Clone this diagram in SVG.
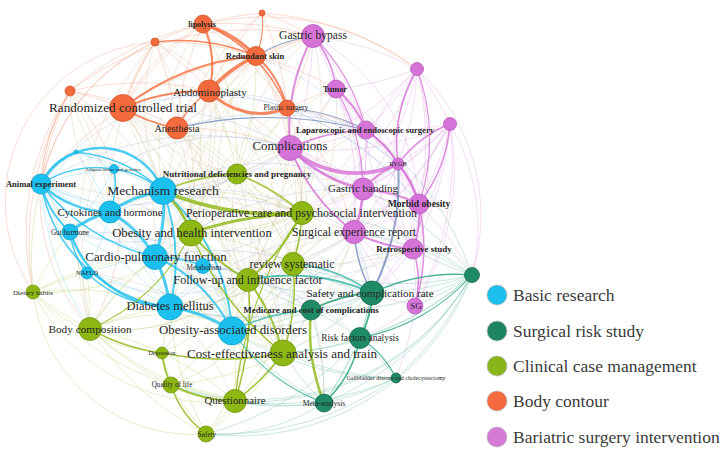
<svg xmlns="http://www.w3.org/2000/svg" width="726" height="452" viewBox="0 0 726 452">
<style>
.e path{fill:none;stroke-linecap:round}
.f path{stroke-width:.6;opacity:.5}
.k path{opacity:.8}
.o{stroke:#f08a62}.p{stroke:#d98ade}.d{stroke:#4ab094}.g{stroke:#a8c84a}.b{stroke:#5ccdf0}.m{stroke:#cdb88e}.s{stroke:#95b0dc}
.O{stroke:#f26a3a}.P{stroke:#d46fd6}.B{stroke:#22c1ee}.G{stroke:#8db712}.D{stroke:#22a07a}.S{stroke:#6f8bb8}.T{stroke:#30b5a0}
.w1{stroke-width:1.1}.w15{stroke-width:1.5}.w2{stroke-width:2}.w25{stroke-width:2.5}.w3{stroke-width:3}.w4{stroke-width:3.8}
.n circle{stroke-width:.8}
.cb{fill:#1cc0ef;stroke:#14a3cc}.cd{fill:#1e8a66;stroke:#166b4f}.cg{fill:#8db712;stroke:#739610}.co{fill:#f36a3c;stroke:#d4542a}.cp{fill:#d573d9;stroke:#b85dbc}
text{font-family:"Liberation Serif","Times New Roman",serif;fill:#262626;text-anchor:middle}
.bd{font-weight:bold}
.lg circle{stroke:#bbbbbb;stroke-width:.8}
.lg text{text-anchor:start;font-size:17.5px;fill:#3a3a3a}
</style>
<rect width="726" height="452" fill="#ffffff"/>
<g id="connectors" class="e">
<g class="f">
<g class="o">
<path d="M123 108A300 300 0 0 1 203 24"/><path d="M177 128A300 300 0 0 1 203 24"/><path d="M203 24A300 300 0 0 1 287 108"/><path d="M203 24A300 300 0 0 1 313 36"/><path d="M70 91A300 300 0 0 1 203 24"/>
<path d="M123 108A300 300 0 0 1 155 42"/><path d="M155 42A300 300 0 0 1 209 91"/><path d="M155 42A300 300 0 0 1 256 56"/><path d="M155 42A300 300 0 0 1 177 128"/><path d="M41 184A200 200 0 0 1 155 42"/>
<path d="M209 91A300 300 0 0 1 262 13"/><path d="M203 24A300 300 0 0 1 262 13"/><path d="M262 13A300 300 0 0 1 313 36"/><path d="M262 13A300 300 0 0 1 287 108"/><path d="M177 128A300 300 0 0 1 262 13"/><path d="M262 13A300 300 0 0 1 417 69"/>
<path d="M70 91A300 300 0 0 1 123 108"/><path d="M70 91A300 300 0 0 1 209 91"/><path d="M70 91A300 300 0 0 1 177 128"/><path d="M41 184A300 300 0 0 1 70 91"/><path d="M33 292A300 300 0 0 1 70 91"/><path d="M90 329A200 200 0 0 1 70 91"/>
<path d="M123 108A300 300 0 0 1 256 56"/><path d="M256 56A300 300 0 0 1 177 128"/><path d="M256 56A300 300 0 0 1 313 36"/><path d="M256 56A300 300 0 0 1 336 89"/><path d="M256 56A300 300 0 0 1 290 148"/>
<path d="M209 91A300 300 0 0 1 290 148"/><path d="M209 91A300 300 0 0 1 313 36"/><path d="M41 184A300 300 0 0 1 123 108"/><path d="M177 128A300 300 0 0 1 290 148"/>
<path d="M287 108A300 300 0 0 1 290 148"/><path d="M313 36A300 300 0 0 1 287 108"/><path d="M287 108A300 300 0 0 1 336 89"/><path d="M287 108A300 300 0 0 1 366 130"/><path d="M287 108A300 300 0 0 1 354 232"/>
<path d="M155 42A250 250 0 0 1 417 69"/><path d="M70 91A300 300 0 0 1 313 36"/><path d="M33 292A160 160 0 0 1 155 42"/>
<path d="M70 91A200 200 0 0 0 41 184"/><path d="M70 91A200 200 0 0 1 90 329"/><path d="M155 42A200 200 0 0 0 41 184"/><path d="M70 91A250 250 0 0 0 33 292"/><path d="M155 42A200 200 0 0 0 123 108"/><path d="M203 24A200 200 0 0 0 123 108"/>
</g>
<g class="p">
<path d="M313 36A300 300 0 0 1 336 89"/><path d="M313 36A300 300 0 0 1 366 130"/><path d="M313 36A300 300 0 0 1 290 148"/><path d="M313 36A300 300 0 0 1 417 69"/><path d="M313 36A300 300 0 0 1 363 189"/>
<path d="M417 69A300 300 0 0 1 336 89"/><path d="M417 69A300 300 0 0 1 366 130"/><path d="M417 69A300 300 0 0 1 398 164"/><path d="M417 69A300 300 0 0 1 419 204"/><path d="M417 69A300 300 0 0 1 413 249"/><path d="M417 69A300 300 0 0 1 450 124"/><path d="M417 69A300 300 0 0 1 363 189"/><path d="M417 69A300 300 0 0 1 290 148"/><path d="M417 69A200 200 0 0 1 472 275"/><path d="M417 69A300 300 0 0 1 302 213"/>
<path d="M336 89A300 300 0 0 1 366 130"/><path d="M336 89A300 300 0 0 1 290 148"/><path d="M336 89A300 300 0 0 1 363 189"/><path d="M336 89A300 300 0 0 1 398 164"/><path d="M336 89A300 300 0 0 1 354 232"/>
<path d="M450 124A300 300 0 0 1 398 164"/><path d="M450 124A300 300 0 0 1 419 204"/><path d="M450 124A300 300 0 0 1 413 249"/><path d="M450 124A300 300 0 0 1 366 130"/><path d="M450 124A300 300 0 0 1 363 189"/><path d="M450 124A200 200 0 0 1 472 275"/><path d="M450 124A300 300 0 0 1 354 232"/><path d="M450 124A300 300 0 0 1 372 293"/><path d="M450 124A300 300 0 0 1 415 306"/><path d="M450 124A300 300 0 0 1 290 148"/><path d="M450 124A300 300 0 0 1 302 213"/><path d="M450 124A300 300 0 0 1 248 280"/>
<path d="M366 130A300 300 0 0 1 290 148"/><path d="M366 130A300 300 0 0 1 398 164"/><path d="M366 130A300 300 0 0 1 363 189"/><path d="M366 130A300 300 0 0 1 354 232"/><path d="M366 130A300 300 0 0 1 419 204"/>
<path d="M290 148A300 300 0 0 1 363 189"/><path d="M290 148A300 300 0 0 1 354 232"/>
<path d="M398 164A300 300 0 0 1 419 204"/><path d="M398 164A300 300 0 0 1 363 189"/><path d="M398 164A300 300 0 0 1 413 249"/><path d="M398 164A300 300 0 0 1 354 232"/>
<path d="M363 189A300 300 0 0 1 419 204"/><path d="M363 189A300 300 0 0 1 354 232"/><path d="M363 189A300 300 0 0 1 413 249"/>
<path d="M419 204A300 300 0 0 1 413 249"/><path d="M419 204A300 300 0 0 1 354 232"/><path d="M419 204A300 300 0 0 1 472 275"/><path d="M419 204A300 300 0 0 1 415 306"/>
<path d="M354 232A300 300 0 0 1 413 249"/><path d="M354 232A300 300 0 0 1 415 306"/><path d="M413 249A300 300 0 0 1 415 306"/><path d="M413 249A300 300 0 0 1 372 293"/><path d="M415 306A300 300 0 0 1 372 293"/><path d="M415 306A300 300 0 0 1 360 338"/><path d="M415 306A300 300 0 0 1 396 378"/>
<path d="M450 124A200 200 0 0 0 413 249"/><path d="M417 69A200 200 0 0 0 354 232"/><path d="M417 69A200 200 0 0 0 413 249"/><path d="M313 36A200 200 0 0 1 419 204"/><path d="M336 89A200 200 0 0 1 419 204"/><path d="M290 148A200 200 0 0 1 413 249"/><path d="M290 148A200 200 0 0 0 419 204"/><path d="M366 130A200 200 0 0 0 413 249"/><path d="M354 232A200 200 0 0 0 415 306"/><path d="M450 124A250 250 0 0 1 415 306"/>
</g>
<g class="d">
<path d="M472 275A300 300 0 0 1 413 249"/><path d="M472 275A300 300 0 0 1 415 306"/><path d="M472 275A300 300 0 0 1 372 293"/><path d="M472 275A300 300 0 0 1 360 338"/><path d="M472 275A300 300 0 0 1 396 378"/><path d="M472 275A300 300 0 0 1 324 403"/><path d="M354 232A300 300 0 0 1 472 275"/><path d="M472 275A300 300 0 0 1 293 264"/><path d="M472 275A300 300 0 0 1 283 353"/><path d="M472 275A300 300 0 0 1 311 310"/><path d="M363 189A300 300 0 0 1 472 275"/><path d="M366 130A300 300 0 0 1 472 275"/><path d="M302 213A300 300 0 0 1 472 275"/><path d="M472 275A250 250 0 0 1 206 434"/><path d="M472 275A250 250 0 0 1 235 401"/><path d="M472 275A250 250 0 0 1 171 385"/>
<path d="M372 293A300 300 0 0 1 311 310"/><path d="M372 293A300 300 0 0 1 360 338"/><path d="M372 293A300 300 0 0 1 248 280"/><path d="M372 293A300 300 0 0 1 293 264"/><path d="M372 293A300 300 0 0 1 283 353"/><path d="M372 293A300 300 0 0 1 232 331"/><path d="M372 293A300 300 0 0 1 324 403"/>
<path d="M311 310A300 300 0 0 1 360 338"/><path d="M311 310A300 300 0 0 1 324 403"/><path d="M311 310A300 300 0 0 1 283 353"/><path d="M311 310A300 300 0 0 1 232 331"/><path d="M311 310A300 300 0 0 1 248 280"/><path d="M311 310A300 300 0 0 1 170 307"/>
<path d="M360 338A300 300 0 0 1 396 378"/><path d="M360 338A300 300 0 0 1 324 403"/><path d="M360 338A300 300 0 0 1 283 353"/><path d="M360 338A300 300 0 0 1 206 434"/>
<path d="M396 378A300 300 0 0 1 324 403"/><path d="M396 378A300 300 0 0 1 283 353"/><path d="M396 378A300 300 0 0 1 235 401"/><path d="M396 378A300 300 0 0 1 232 331"/><path d="M396 378A300 300 0 0 1 206 434"/>
<path d="M324 403A300 300 0 0 1 235 401"/><path d="M324 403A200 200 0 0 1 206 434"/><path d="M324 403A300 300 0 0 1 283 353"/><path d="M324 403A300 300 0 0 1 232 331"/><path d="M324 403A300 300 0 0 1 171 385"/>
</g>
<g class="g">
<path d="M237 174A300 300 0 0 1 302 213"/><path d="M163 191A300 300 0 0 1 237 174"/><path d="M237 174A300 300 0 0 1 191 233"/><path d="M237 174A300 300 0 0 1 293 264"/><path d="M203 24A300 300 0 0 1 237 174"/><path d="M256 56A300 300 0 0 1 237 174"/><path d="M209 91A300 300 0 0 1 237 174"/><path d="M177 128A300 300 0 0 1 237 174"/><path d="M287 108A300 300 0 0 1 237 174"/>
<path d="M302 213A300 300 0 0 1 191 233"/><path d="M302 213A300 300 0 0 1 293 264"/><path d="M302 213A300 300 0 0 1 248 280"/><path d="M163 191A300 300 0 0 1 302 213"/>
<path d="M191 233A300 300 0 0 1 248 280"/><path d="M191 233A300 300 0 0 1 293 264"/><path d="M191 233A300 300 0 0 1 170 307"/><path d="M191 233A300 300 0 0 1 283 353"/><path d="M191 233A300 300 0 0 1 232 331"/>
<path d="M293 264A300 300 0 0 1 248 280"/><path d="M293 264A300 300 0 0 1 283 353"/><path d="M293 264A300 300 0 0 1 232 331"/>
<path d="M248 280A300 300 0 0 1 283 353"/><path d="M248 280A300 300 0 0 1 232 331"/><path d="M248 280A300 300 0 0 1 170 307"/><path d="M248 280A300 300 0 0 1 235 401"/>
<path d="M283 353A300 300 0 0 1 235 401"/><path d="M283 353A300 300 0 0 1 232 331"/><path d="M283 353A300 300 0 0 1 171 385"/><path d="M283 353A300 300 0 0 1 162 353"/><path d="M283 353A300 300 0 0 1 206 434"/>
<path d="M90 329A300 300 0 0 1 170 307"/><path d="M90 329A300 300 0 0 1 162 353"/><path d="M171 385A300 300 0 0 1 90 329"/><path d="M90 329A300 300 0 0 1 155 257"/><path d="M87 273A300 300 0 0 1 90 329"/><path d="M90 329A300 300 0 0 1 191 233"/><path d="M235 401A300 300 0 0 1 90 329"/><path d="M206 434A300 300 0 0 1 90 329"/><path d="M90 329A300 300 0 0 1 33 292"/>
<path d="M171 385A300 300 0 0 1 33 292"/><path d="M206 434A160 160 0 0 1 33 292"/><path d="M33 292A300 300 0 0 1 87 273"/><path d="M33 292A300 300 0 0 1 70 232"/><path d="M235 401A200 200 0 0 1 33 292"/><path d="M33 292A300 300 0 0 1 41 184"/><path d="M33 292A300 300 0 0 1 170 307"/><path d="M33 292A300 300 0 0 1 155 257"/>
<path d="M162 353A300 300 0 0 1 171 385"/><path d="M162 353A300 300 0 0 1 170 307"/><path d="M162 353A300 300 0 0 1 235 401"/><path d="M171 385A300 300 0 0 1 235 401"/><path d="M206 434A300 300 0 0 1 171 385"/><path d="M171 385A300 300 0 0 1 232 331"/><path d="M235 401A300 300 0 0 1 206 434"/><path d="M232 331A300 300 0 0 1 235 401"/><path d="M206 434A300 300 0 0 1 170 307"/>
<path d="M90 329A200 200 0 0 0 248 280"/><path d="M90 329A200 200 0 0 1 283 353"/><path d="M162 353A200 200 0 0 0 248 280"/><path d="M171 385A200 200 0 0 0 293 264"/><path d="M235 401A200 200 0 0 0 293 264"/><path d="M206 434A200 200 0 0 0 248 280"/><path d="M33 292A200 200 0 0 0 191 233"/><path d="M33 292A200 200 0 0 0 162 353"/><path d="M191 233A200 200 0 0 0 302 213"/><path d="M237 174A200 200 0 0 0 302 213"/>
</g>
<g class="b">
<path d="M41 184A300 300 0 0 1 114 169"/><path d="M41 184A300 300 0 0 1 110 212"/><path d="M41 184A300 300 0 0 1 70 232"/><path d="M41 184A300 300 0 0 1 155 257"/><path d="M87 273A300 300 0 0 1 41 184"/><path d="M41 184A300 300 0 0 1 170 307"/><path d="M90 329A300 300 0 0 1 41 184"/>
<path d="M114 169A300 300 0 0 1 163 191"/><path d="M114 169A300 300 0 0 1 110 212"/><path d="M114 169A300 300 0 0 1 70 232"/>
<path d="M110 212A300 300 0 0 1 163 191"/><path d="M163 191A300 300 0 0 1 155 257"/><path d="M163 191A300 300 0 0 1 203 266"/><path d="M163 191A300 300 0 0 1 232 331"/>
<path d="M110 212A300 300 0 0 1 155 257"/><path d="M70 232A300 300 0 0 1 110 212"/><path d="M110 212A300 300 0 0 1 87 273"/><path d="M110 212A300 300 0 0 1 170 307"/>
<path d="M70 232A300 300 0 0 1 155 257"/><path d="M70 232A300 300 0 0 1 87 273"/><path d="M70 232A300 300 0 0 1 170 307"/>
<path d="M155 257A300 300 0 0 1 170 307"/><path d="M155 257A300 300 0 0 1 232 331"/><path d="M155 257A300 300 0 0 1 203 266"/><path d="M87 273A300 300 0 0 1 155 257"/>
<path d="M203 266A300 300 0 0 1 170 307"/><path d="M203 266A300 300 0 0 1 232 331"/><path d="M87 273A300 300 0 0 1 170 307"/><path d="M170 307A300 300 0 0 1 232 331"/><path d="M191 233A300 300 0 0 1 155 257"/>
<path d="M76 152A300 300 0 0 1 41 184"/><path d="M76 152A300 300 0 0 1 163 191"/><path d="M76 152A300 300 0 0 1 110 212"/><path d="M76 152A300 300 0 0 1 114 169"/>
</g>
<g class="s">
<path d="M123 108A300 300 0 0 1 290 148"/><path d="M177 128A300 300 0 0 1 366 130"/><path d="M163 191A300 300 0 0 1 354 232"/><path d="M155 257A300 300 0 0 1 372 293"/><path d="M110 212A300 300 0 0 1 302 213"/><path d="M191 233A300 300 0 0 1 363 189"/><path d="M170 307A300 300 0 0 1 354 232"/><path d="M232 331A300 300 0 0 1 413 249"/><path d="M41 184A300 300 0 0 1 290 148"/><path d="M287 108A300 300 0 0 1 419 204"/><path d="M209 91A300 300 0 0 1 398 164"/><path d="M70 232A300 300 0 0 1 248 280"/><path d="M155 257A300 300 0 0 1 311 310"/><path d="M110 212A300 300 0 0 1 232 331"/><path d="M203 266A300 300 0 0 1 360 338"/><path d="M256 56A300 300 0 0 1 366 130"/><path d="M290 148A300 300 0 0 1 163 191"/><path d="M290 148A300 300 0 0 1 372 293"/><path d="M354 232A300 300 0 0 1 372 293"/>
<path d="M163 191A200 200 0 0 0 290 148"/><path d="M155 257A200 200 0 0 0 302 213"/><path d="M170 307A200 200 0 0 0 293 264"/><path d="M232 331A200 200 0 0 0 354 232"/><path d="M232 331A200 200 0 0 1 372 293"/><path d="M110 212A200 200 0 0 0 237 174"/><path d="M41 184A200 200 0 0 0 237 174"/><path d="M41 184A250 250 0 0 1 209 91"/><path d="M70 232A200 200 0 0 0 191 233"/><path d="M87 273A200 200 0 0 0 248 280"/><path d="M203 266A200 200 0 0 0 354 232"/><path d="M203 266A200 200 0 0 1 311 310"/><path d="M163 191A200 200 0 0 1 363 189"/><path d="M114 169A200 200 0 0 1 290 148"/><path d="M155 257A300 300 0 0 0 413 249"/><path d="M123 108A300 300 0 0 1 398 164"/><path d="M209 91A300 300 0 0 1 419 204"/><path d="M170 307A300 300 0 0 0 372 293"/>
</g>
<g class="m">
<path d="M123 108A300 300 0 0 1 163 191"/><path d="M123 108A300 300 0 0 1 191 233"/><path d="M123 108A300 300 0 0 1 155 257"/><path d="M90 329A300 300 0 0 1 123 108"/><path d="M123 108A300 300 0 0 1 170 307"/>
<path d="M123 108A300 300 0 0 1 248 280"/><path d="M123 108A300 300 0 0 1 283 353"/><path d="M123 108A300 300 0 0 1 235 401"/><path d="M123 108A300 300 0 0 1 324 403"/><path d="M177 128A300 300 0 0 1 248 280"/><path d="M177 128A300 300 0 0 1 283 353"/><path d="M177 128A300 300 0 0 1 232 331"/><path d="M177 128A300 300 0 0 1 163 191"/><path d="M177 128A300 300 0 0 1 191 233"/>
<path d="M209 91A300 300 0 0 1 191 233"/><path d="M209 91A300 300 0 0 1 293 264"/><path d="M209 91A300 300 0 0 1 163 191"/><path d="M256 56A300 300 0 0 1 302 213"/><path d="M287 108A300 300 0 0 1 302 213"/><path d="M287 108A300 300 0 0 1 248 280"/><path d="M313 36A300 300 0 0 1 302 213"/><path d="M336 89A300 300 0 0 1 293 264"/><path d="M366 130A300 300 0 0 1 302 213"/>
<path d="M290 148A300 300 0 0 1 191 233"/><path d="M290 148A300 300 0 0 1 237 174"/><path d="M290 148A300 300 0 0 1 248 280"/><path d="M290 148A300 300 0 0 1 302 213"/><path d="M290 148A300 300 0 0 1 293 264"/><path d="M363 189A300 300 0 0 1 293 264"/><path d="M302 213A300 300 0 0 1 363 189"/><path d="M237 174A300 300 0 0 1 363 189"/><path d="M354 232A300 300 0 0 1 283 353"/><path d="M354 232A300 300 0 0 1 293 264"/><path d="M354 232A300 300 0 0 1 302 213"/><path d="M413 249A300 300 0 0 1 293 264"/>
<path d="M163 191A300 300 0 0 1 248 280"/><path d="M155 257A300 300 0 0 1 283 353"/><path d="M170 307A300 300 0 0 1 235 401"/><path d="M87 273A300 300 0 0 1 232 331"/><path d="M41 184A300 300 0 0 1 191 233"/><path d="M203 24A300 300 0 0 1 191 233"/><path d="M155 42A300 300 0 0 1 302 213"/><path d="M70 91A300 300 0 0 1 163 191"/><path d="M155 42A300 300 0 0 1 191 233"/><path d="M110 212A300 300 0 0 1 155 42"/><path d="M90 329A300 300 0 0 1 155 42"/><path d="M70 91A300 300 0 0 1 110 212"/><path d="M41 184A300 300 0 0 1 90 329"/>
<path d="M163 191A200 200 0 0 0 283 353"/><path d="M191 233A200 200 0 0 0 324 403"/><path d="M237 174A200 200 0 0 0 283 353"/><path d="M237 174A200 200 0 0 1 248 280"/><path d="M302 213A200 200 0 0 0 232 331"/><path d="M302 213A200 200 0 0 1 170 307"/><path d="M293 264A200 200 0 0 1 170 307"/><path d="M293 264A200 200 0 0 0 235 401"/><path d="M248 280A200 200 0 0 0 162 353"/><path d="M248 280A200 200 0 0 1 90 329"/>
<path d="M209 91A200 200 0 0 0 248 280"/><path d="M209 91A200 200 0 0 0 302 213"/><path d="M177 128A200 200 0 0 0 302 213"/><path d="M177 128A200 200 0 0 1 293 264"/><path d="M256 56A200 200 0 0 0 191 233"/><path d="M256 56A200 200 0 0 0 248 280"/><path d="M287 108A200 200 0 0 0 191 233"/><path d="M287 108A200 200 0 0 1 293 264"/><path d="M123 108A200 200 0 0 0 237 174"/><path d="M123 108A200 200 0 0 0 302 213"/>
<path d="M70 91A200 200 0 0 0 191 233"/><path d="M70 91A200 200 0 0 0 155 257"/><path d="M155 42A200 200 0 0 0 163 191"/><path d="M203 24A200 200 0 0 0 163 191"/><path d="M313 36A200 200 0 0 0 237 174"/><path d="M313 36A200 200 0 0 0 191 233"/><path d="M336 89A200 200 0 0 0 237 174"/><path d="M336 89A200 200 0 0 0 302 213"/><path d="M366 130A200 200 0 0 0 248 280"/><path d="M363 189A200 200 0 0 0 248 280"/>
<path d="M354 232A200 200 0 0 0 248 280"/><path d="M354 232A200 200 0 0 1 311 310"/><path d="M413 249A200 200 0 0 0 283 353"/><path d="M419 204A200 200 0 0 0 293 264"/><path d="M290 148A200 200 0 0 0 283 353"/><path d="M290 148A200 200 0 0 0 155 257"/><path d="M237 174A200 200 0 0 0 155 257"/><path d="M237 174A200 200 0 0 0 110 212"/>
</g>
</g>
<g class="k">
<path class="S w1" d="M256 56A150 150 0 0 1 313 36"/>
<path class="S w1" d="M177 128A400 400 0 0 1 366 130"/>
<path class="S w1" d="M287 108A200 200 0 0 1 366 130"/>
<path class="O w1" d="M262 13A80 80 0 0 1 256 56"/>
<path class="O w15" d="M203 24A150 150 0 0 1 287 108"/>
<path class="O w15" d="M123 108A150 150 0 0 0 177 128"/>
<path class="O w15" d="M209 91A100 100 0 0 0 177 128"/>
<path class="O w15" d="M256 56A200 200 0 0 0 155 42"/>
<path class="O w2" d="M256 56A250 250 0 0 0 123 108"/>
<path class="O w2" d="M123 108A200 200 0 0 1 209 91"/>
<path class="O w2" d="M203 24A100 100 0 0 1 209 91"/>
<path class="O w2" d="M256 56A100 100 0 0 1 287 108"/>
<path class="O w3" d="M203 24A120 120 0 0 1 256 56"/>
<path class="O w3" d="M209 91A70 70 0 0 0 287 108"/>
<path class="O w4" d="M256 56A150 150 0 0 0 209 91"/>
<path class="B w15" d="M41 184A100 100 0 0 1 114 169"/>
<path class="B w15" d="M114 169A80 80 0 0 1 110 212"/>
<path class="B w15" d="M114 169A100 100 0 0 1 163 191"/>
<path class="B w15" d="M70 232A80 80 0 0 0 87 273"/>
<path class="B w15" d="M87 273A120 120 0 0 0 170 307"/>
<path class="B w15" d="M155 257A120 120 0 0 1 203 266"/>
<path class="B w15" d="M41 184A150 150 0 0 0 170 307"/>
<path class="B w15" d="M41 184A200 200 0 0 0 155 257"/>
<path class="B w15" d="M41 184A60 60 0 0 1 76 152"/>
<path class="B w15" d="M76 152A150 150 0 0 1 163 191"/>
<path class="B w2" d="M163 191A200 200 0 0 1 170 307"/>
<path class="B w2" d="M41 184A100 100 0 0 0 70 232"/>
<path class="B w2" d="M155 257A150 150 0 0 1 232 331"/>
<path class="B w2" d="M163 191A200 200 0 0 1 232 331"/>
<path class="B w25" d="M41 184A67 67 0 0 1 163 191"/>
<path class="B w25" d="M41 184A100 100 0 0 0 110 212"/>
<path class="B w25" d="M70 232A110 110 0 0 0 170 307"/>
<path class="B w3" d="M110 212A120 120 0 0 1 163 191"/>
<path class="B w3" d="M110 212A100 100 0 0 0 70 232"/>
<path class="B w3" d="M110 212A120 120 0 0 1 155 257"/>
<path class="B w3" d="M163 191A150 150 0 0 1 155 257"/>
<path class="B w3" d="M155 257A150 150 0 0 1 170 307"/>
<path class="B w3" d="M170 307A150 150 0 0 1 232 331"/>
<path class="G w1" d="M191 233A200 200 0 0 1 90 329"/>
<path class="G w1" d="M302 213A400 400 0 0 0 235 401"/>
<path class="G w15" d="M293 264A200 200 0 0 1 283 353"/>
<path class="G w15" d="M171 385A100 100 0 0 0 206 434"/>
<path class="G w15" d="M283 353A200 200 0 0 1 235 401"/>
<path class="G w15" d="M237 174A200 200 0 0 1 302 213"/>
<path class="G w15" d="M163 191A200 200 0 0 1 237 174"/>
<path class="G w15" d="M90 329A200 200 0 0 0 162 353"/>
<path class="G w15" d="M283 353A300 300 0 0 1 162 353"/>
<path class="G w15" d="M248 280A300 300 0 0 1 235 401"/>
<path class="G w15" d="M302 213A200 200 0 0 1 293 264"/>
<path class="G w15" d="M191 233A300 300 0 0 0 283 353"/>
<path class="G w2" d="M191 233A200 200 0 0 0 248 280"/>
<path class="G w2" d="M302 213A200 200 0 0 1 248 280"/>
<path class="G w2" d="M248 280A200 200 0 0 1 283 353"/>
<path class="G w2" d="M171 385A150 150 0 0 0 235 401"/>
<path class="G w2" d="M162 353A100 100 0 0 0 171 385"/>
<path class="G w3" d="M191 233A400 400 0 0 1 302 213"/>
<path class="G w3" d="M163 191A100 100 0 0 1 191 233"/>
<path class="G w4" d="M163 191A300 300 0 0 0 302 213"/>
<path class="P w1" d="M313 36A200 200 0 0 1 366 130"/>
<path class="P w1" d="M336 89A200 200 0 0 1 363 189"/>
<path class="P w1" d="M417 69A200 200 0 0 1 419 204"/>
<path class="P w15" d="M313 36A100 100 0 0 1 336 89"/>
<path class="P w15" d="M290 148A200 200 0 0 1 366 130"/>
<path class="P w15" d="M417 69A150 150 0 0 0 398 164"/>
<path class="P w15" d="M450 124A150 150 0 0 1 419 204"/>
<path class="P w15" d="M450 124A120 120 0 0 0 398 164"/>
<path class="P w15" d="M419 204A200 200 0 0 1 415 306"/>
<path class="P w15" d="M413 249A100 100 0 0 1 415 306"/>
<path class="P w15" d="M366 130A150 150 0 0 1 419 204"/>
<path class="P w2" d="M366 130A100 100 0 0 1 398 164"/>
<path class="P w2" d="M363 189A150 150 0 0 1 419 204"/>
<path class="P w2" d="M354 232A150 150 0 0 0 413 249"/>
<path class="P w2" d="M419 204A100 100 0 0 1 413 249"/>
<path class="P w2" d="M290 148A200 200 0 0 0 354 232"/>
<path class="P w2" d="M313 36A200 200 0 0 0 290 148"/>
<path class="P w2" d="M336 89A100 100 0 0 1 366 130"/>
<path class="P w2" d="M398 164A100 100 0 0 0 363 189"/>
<path class="P w25" d="M290 148A150 150 0 0 0 363 189"/>
<path class="P w25" d="M398 164A100 100 0 0 1 419 204"/>
<path class="P w25" d="M363 189A120 120 0 0 1 354 232"/>
<path class="P w4" d="M290 148A100 100 0 0 0 398 164"/>
<path class="S w2" d="M398 164A250 250 0 0 1 372 293"/>
<path class="S w15" d="M354 232A150 150 0 0 0 372 293"/>
<path class="D w1" d="M360 338A100 100 0 0 1 396 378"/>
<path class="D w1" d="M472 275A200 200 0 0 1 360 338"/>
<path class="D w15" d="M472 275A200 200 0 0 0 372 293"/>
<path class="D w15" d="M360 338A120 120 0 0 1 324 403"/>
<path class="D w2" d="M372 293A150 150 0 0 0 311 310"/>
<path class="D w2" d="M372 293A100 100 0 0 1 360 338"/>
<path class="T w15" d="M311 310A200 200 0 0 0 232 331"/>
<path class="T w15" d="M372 293A150 150 0 0 0 293 264"/>
<path class="T w1" d="M232 331A200 200 0 0 0 324 403"/>
<path class="T w2" d="M372 293A200 200 0 0 0 248 280"/>
<path class="G w25" d="M311 310A200 200 0 0 0 324 403"/>
</g>
</g>
<g class="n">
<g id="n-lipolysis"><circle class="co" cx="203" cy="24" r="9"/><text class="bd" x="202" y="27" font-size="8">lipolysis</text></g>
<g id="n-o2"><circle class="co" cx="155" cy="42" r="4"/></g>
<g id="n-o3"><circle class="co" cx="262" cy="13" r="3"/></g>
<g id="n-o4"><circle class="co" cx="70" cy="91" r="5"/></g>
<g id="n-redundant-skin"><circle class="co" cx="256" cy="56" r="9.5"/><text class="bd" x="255" y="59" font-size="8.6">Redundant skin</text></g>
<g id="n-abdominoplasty"><circle class="co" cx="209" cy="91" r="11"/><text x="210" y="95.5" font-size="11">Abdominoplasty</text></g>
<g id="n-rct"><circle class="co" cx="123" cy="108" r="13.5"/><text x="123" y="111.5" font-size="13.2">Randomized controlled trial</text></g>
<g id="n-anesthesia"><circle class="co" cx="177" cy="128" r="11"/><text x="177" y="131.5" font-size="10.3">Anesthesia</text></g>
<g id="n-plastic-surgery"><circle class="co" cx="287" cy="108" r="8"/><text x="286" y="110" font-size="7.6">Plastic surgery</text></g>
<g id="n-gastric-bypass"><circle class="cp" cx="313" cy="36" r="11.5"/><text x="313" y="39" font-size="11.6">Gastric bypass</text></g>
<g id="n-p2"><circle class="cp" cx="417" cy="69" r="6.5"/></g>
<g id="n-tumor"><circle class="cp" cx="336" cy="89" r="9"/><text class="bd" x="335" y="92" font-size="8.3">Tumor</text></g>
<g id="n-p4"><circle class="cp" cx="450" cy="124" r="6.5"/></g>
<g id="n-laparoscopic"><circle class="cp" cx="366" cy="130" r="9"/><text class="bd" x="365" y="133" font-size="8.6">Laparoscopic and endoscopic surgery</text></g>
<g id="n-complications"><circle class="cp" cx="290" cy="148" r="12.5"/><text x="290" y="150" font-size="12.9">Complications</text></g>
<g id="n-rygb"><circle class="cp" cx="398" cy="164" r="6"/><text x="398" y="165.5" font-size="6.5">RYGB</text></g>
<g id="n-gastric-banding"><circle class="cp" cx="363" cy="189" r="11"/><text x="363" y="191.5" font-size="11">Gastric banding</text></g>
<g id="n-morbid-obesity"><circle class="cp" cx="419" cy="204" r="10"/><text class="bd" x="419" y="206.5" font-size="9.6">Morbid obesity</text></g>
<g id="n-surgical-experience"><circle class="cp" cx="354" cy="232" r="11.5"/><text x="354" y="236" font-size="11.8">Surgical experience report</text></g>
<g id="n-retrospective"><circle class="cp" cx="413" cy="249" r="10"/><text class="bd" x="414" y="252" font-size="9">Retrospective study</text></g>
<g id="n-sg"><circle class="cp" cx="415" cy="306" r="8"/><text x="416" y="309" font-size="9">SG</text></g>
<g id="n-d1"><circle class="cd" cx="472" cy="275" r="7.5"/></g>
<g id="n-safety-complication"><circle class="cd" cx="372" cy="293" r="12"/><text x="370" y="296.5" font-size="11.1">Safety and complication rate</text></g>
<g id="n-medicare"><circle class="cd" cx="311" cy="310" r="10"/><text class="bd" x="311" y="313" font-size="9">Medicare and cost of complications</text></g>
<g id="n-risk-factors"><circle class="cd" cx="360" cy="338" r="10.5"/><text x="360" y="341" font-size="9.4">Risk factors analysis</text></g>
<g id="n-gallbladder"><circle class="cd" cx="396" cy="378" r="5"/><text x="396" y="380" font-size="6">Gallbladder disease and cholecystectomy</text></g>
<g id="n-meta-analysis"><circle class="cd" cx="324" cy="403" r="9"/><text x="324" y="405.5" font-size="7.6">Meta-analysis</text></g>
<g id="n-nutritional"><circle class="cg" cx="237" cy="174" r="10"/><text class="bd" x="237" y="177" font-size="9">Nutritional deficiencies and pregnancy</text></g>
<g id="n-perioperative"><circle class="cg" cx="302" cy="213" r="11.5"/><text x="301.5" y="217" font-size="11.9">Perioperative care and psychosocial intervention</text></g>
<g id="n-obesity-health"><circle class="cg" cx="191" cy="233" r="13"/><text x="192" y="237" font-size="12.7">Obesity and health intervention</text></g>
<g id="n-review-systematic"><circle class="cg" cx="293" cy="264" r="11.5"/><text x="292" y="267.5" font-size="11.8">review systematic</text></g>
<g id="n-follow-up"><circle class="cg" cx="248" cy="280" r="11.5"/><text x="248" y="284" font-size="12">Follow-up and influence factor</text></g>
<g id="n-cost-effectiveness"><circle class="cg" cx="283" cy="353" r="13"/><text x="282" y="357.5" font-size="13">Cost-effectiveness analysis and train</text></g>
<g id="n-body-composition"><circle class="cg" cx="90" cy="329" r="11.5"/><text x="90" y="333" font-size="11.3">Body composition</text></g>
<g id="n-dietary-habits"><circle class="cg" cx="33" cy="292" r="7"/><text x="33" y="294.5" font-size="7.1">Dietary habits</text></g>
<g id="n-depression"><circle class="cg" cx="162" cy="353" r="6"/><text x="162" y="355" font-size="6">Depression</text></g>
<g id="n-quality-of-life"><circle class="cg" cx="171" cy="385" r="8"/><text x="172" y="387" font-size="7.2">Quality of life</text></g>
<g id="n-questionnaire"><circle class="cg" cx="235" cy="401" r="11.5"/><text x="235" y="404" font-size="10.9">Questionnaire</text></g>
<g id="n-safety"><circle class="cg" cx="206" cy="434" r="8"/><text x="207" y="436.5" font-size="7.2">Safety</text></g>
<g id="n-animal-experiment"><circle class="cb" cx="41" cy="184" r="10"/><text class="bd" x="41" y="187" font-size="8.5">Animal experiment</text></g>
<g id="n-adipose"><circle class="cb" cx="114" cy="169" r="4.5"/><text x="113" y="170.7" font-size="5">Adipose tissue and genetics</text></g>
<g id="n-b11"><circle class="cb" cx="76" cy="152" r="2"/></g>
<g id="n-mechanism"><circle class="cb" cx="163" cy="191" r="13.5"/><text x="163" y="194.5" font-size="13.5">Mechanism research</text></g>
<g id="n-cytokines"><circle class="cb" cx="110" cy="212" r="11"/><text x="110" y="215.5" font-size="11">Cytokines and hormone</text></g>
<g id="n-gut-hormone"><circle class="cb" cx="70" cy="232" r="8"/><text x="70" y="234.5" font-size="7.2">Gut hormone</text></g>
<g id="n-cardio"><circle class="cb" cx="155" cy="257" r="12.5"/><text x="156" y="260.5" font-size="12.9">Cardio-pulmonary function</text></g>
<g id="n-metabolism"><circle class="cb" cx="203" cy="266" r="7.5"/><text x="204" y="269.5" font-size="7.3">Metabolism</text></g>
<g id="n-nafld"><circle class="cb" cx="87" cy="273" r="6"/><text x="87" y="275.2" font-size="6.6">NAFLD</text></g>
<g id="n-diabetes"><circle class="cb" cx="170" cy="307" r="13"/><text x="170" y="309.5" font-size="12.5">Diabetes mellitus</text></g>
<g id="n-obesity-associated"><circle class="cb" cx="232" cy="331" r="14"/><text x="233" y="333.5" font-size="12.9">Obesity-associated disorders</text></g>
</g>
<g id="legend" class="lg">
<g id="lg-basic"><circle cx="497" cy="295" r="10" fill="#1cc0ef"/><text x="513" y="301">Basic research</text></g>
<g id="lg-surgical"><circle cx="497" cy="331" r="10" fill="#1e8562"/><text x="513" y="337">Surgical risk study</text></g>
<g id="lg-clinical"><circle cx="497" cy="366" r="10" fill="#88b51a"/><text x="513" y="372">Clinical case management</text></g>
<g id="lg-body"><circle cx="497" cy="401" r="10" fill="#f56b3f"/><text x="513" y="407">Body contour</text></g>
<g id="lg-bariatric"><circle cx="497" cy="437" r="10" fill="#d27ad6"/><text x="513" y="443">Bariatric surgery intervention</text></g>
</g>
</svg>
